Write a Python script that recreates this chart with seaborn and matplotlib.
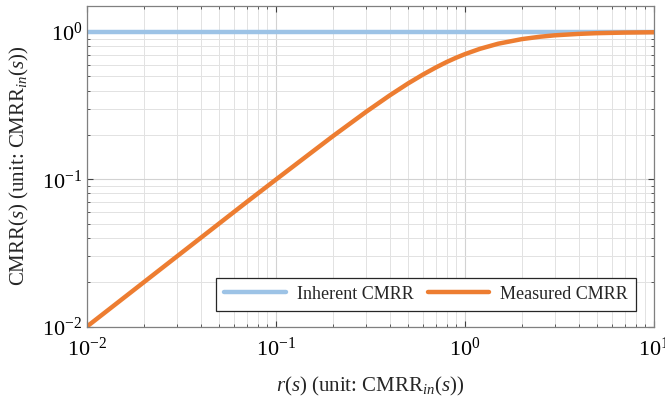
import matplotlib

matplotlib.use("Agg")
import matplotlib.pyplot as plt
import pandas as pd
import seaborn as sns

# values (log-log)
r_vals = [0.01, 0.02, 0.03, 0.05, 0.07, 0.1, 0.15, 0.2, 0.3, 0.4, 0.5, 0.6, 0.7,
          0.8, 0.9, 1.0, 1.2, 1.5, 2.0, 2.5, 3.0, 4.0, 5.0, 7.0, 10.0]
measured = [0.01, 0.02, 0.03, 0.05, 0.07, 0.0995, 0.148, 0.196, 0.287, 0.371,
            0.447, 0.514, 0.573, 0.625, 0.669, 0.707, 0.768, 0.832, 0.894,
            0.928, 0.949, 0.970, 0.981, 0.990, 0.995]
inherent = [1.0] * len(r_vals)

labels = ["Inherent CMRR", "Measured CMRR"]
colors = ["#9dc3e6", "#ed7d31"]

df = pd.concat(
    [
        pd.DataFrame({"r": r_vals, "cmrr": inherent, "kind": labels[0]}),
        pd.DataFrame({"r": r_vals, "cmrr": measured, "kind": labels[1]}),
    ]
)

sns.set_style("ticks")
plt.rcParams["font.family"] = ["Liberation Serif", "DejaVu Serif"]
plt.rcParams["mathtext.fontset"] = "custom"
plt.rcParams["mathtext.rm"] = "Liberation Serif"
plt.rcParams["mathtext.it"] = "Liberation Serif:italic"
plt.rcParams["mathtext.bf"] = "Liberation Serif:bold"
plt.rcParams["axes.unicode_minus"] = False

fig = plt.figure(figsize=(6.65, 4.03), dpi=100)
ax = fig.add_axes([0.1308, 0.1898, 0.8526, 0.7953])

sns.lineplot(
    data=df,
    x="r",
    y="cmrr",
    hue="kind",
    palette=colors,
    linewidth=3.2,
    ax=ax,
    sort=False,
)

ax.set_xscale("log")
ax.set_yscale("log")
ax.set_xlim(0.01, 10)
ax.set_ylim(0.01, 1.5)

ax.grid(True, which="major", color="#d2d2d2", linewidth=0.8, linestyle="-")
ax.grid(True, which="minor", color="#e2e2e2", linewidth=0.7, linestyle="-")
ax.set_axisbelow(True)

ax.tick_params(which="both", direction="in", top=True, right=True,
               labelsize=16, colors="#404040", labelcolor="black")
ax.tick_params(which="major", length=4, width=0.8)
ax.tick_params(which="minor", length=2.5, width=0.6)
ax.tick_params(axis="x", pad=8)
for sp in ax.spines.values():
    sp.set_color("#808080")
    sp.set_linewidth(0.9)

ax.set_xlabel(r"$r$($s$) (unit: CMRR$_{in}$($s$))", fontsize=15, labelpad=10)
ax.set_ylabel(r"CMRR($s$) (unit: CMRR$_{in}$($s$))", fontsize=15, labelpad=8)

leg = ax.legend(
    loc="lower right",
    bbox_to_anchor=(0.968, 0.049),
    borderaxespad=0,
    ncol=2,
    fontsize=13,
    handlelength=3.4,
    handletextpad=0.6,
    columnspacing=0.8,
    borderpad=0.45,
    frameon=True,
    fancybox=False,
    framealpha=1,
    title=None,
)
leg.get_frame().set_edgecolor("#262626")
leg.get_frame().set_linewidth(0.9)

fig.savefig("out.png", dpi=100)
